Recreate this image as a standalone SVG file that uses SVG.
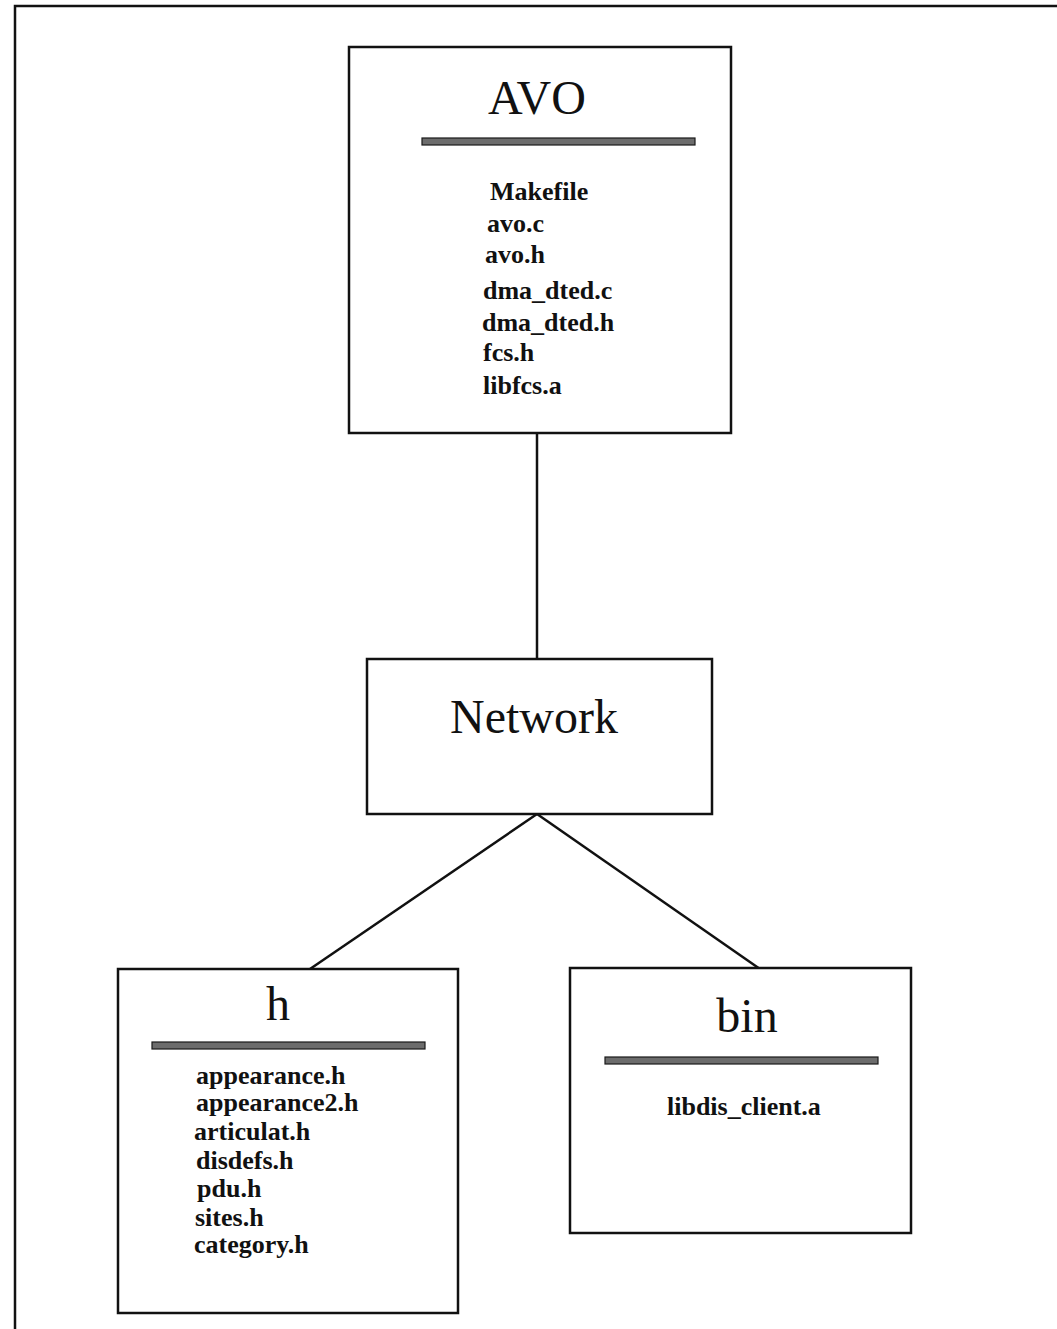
<svg xmlns="http://www.w3.org/2000/svg" width="1057" height="1329" viewBox="0 0 1057 1329">
<style>
.box{fill:#fff;stroke:#111;stroke-width:2.5}
.bar{fill:#6c6c6c;stroke:#1a1a1a;stroke-width:1.2}
.title{font-family:"Liberation Serif",serif;font-size:48px;fill:#111;text-anchor:middle}
.item{font-family:"Liberation Serif",serif;font-size:26px;font-weight:bold;fill:#111}
.conn{stroke:#111;stroke-width:2.5;fill:none}
</style>
<rect width="1057" height="1329" fill="#fff"/>
<polyline points="15,1329 15,6 1057,6" fill="none" stroke="#111" stroke-width="2.5"/>
<g id="connectors">
<line class="conn" x1="537" y1="433" x2="537" y2="659"/>
<line class="conn" x1="537" y1="814" x2="310" y2="969"/>
<line class="conn" x1="537" y1="814" x2="760" y2="969"/>
</g>
<g id="avo">
<rect class="box" x="349" y="47" width="382" height="386"/>
<text class="title" x="537" y="114">AVO</text>
<rect class="bar" x="422" y="138" width="273" height="7"/>
<text class="item" x="490" y="200">Makefile</text>
<text class="item" x="487" y="232">avo.c</text>
<text class="item" x="485" y="263">avo.h</text>
<text class="item" x="483" y="299">dma_dted.c</text>
<text class="item" x="482" y="331">dma_dted.h</text>
<text class="item" x="483" y="361">fcs.h</text>
<text class="item" x="483" y="394">libfcs.a</text>
</g>
<g id="network">
<rect class="box" x="367" y="659" width="345" height="155"/>
<text class="title" x="534" y="733">Network</text>
</g>
<g id="h">
<rect class="box" x="118" y="969" width="340" height="344"/>
<text class="title" x="278" y="1020">h</text>
<rect class="bar" x="152" y="1042" width="273" height="7"/>
<text class="item" x="196" y="1084">appearance.h</text>
<text class="item" x="196" y="1111">appearance2.h</text>
<text class="item" x="194" y="1140">articulat.h</text>
<text class="item" x="196" y="1169">disdefs.h</text>
<text class="item" x="197" y="1197">pdu.h</text>
<text class="item" x="195" y="1226">sites.h</text>
<text class="item" x="194" y="1253">category.h</text>
</g>
<g id="bin">
<rect class="box" x="570" y="968" width="341" height="265"/>
<text class="title" x="747" y="1032">bin</text>
<rect class="bar" x="605" y="1057" width="273" height="7"/>
<text class="item" x="667" y="1115">libdis_client.a</text>
</g>
</svg>
